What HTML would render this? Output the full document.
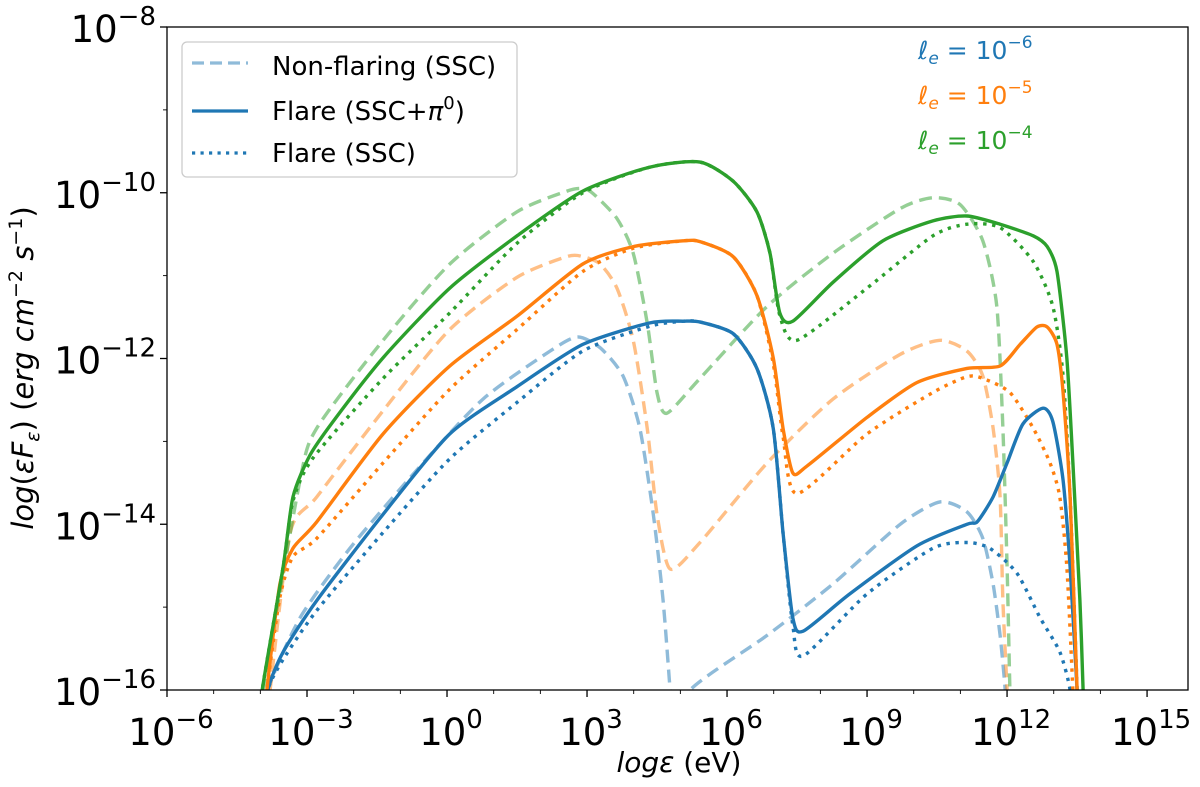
<!DOCTYPE html>
<html><head><meta charset="utf-8"><style>
body{margin:0;background:#fff;}
svg text{font-family:"DejaVu Sans","Liberation Sans",sans-serif;}
</style></head><body>
<svg id="chart" width="1200" height="782" viewBox="0 0 1200 782" xmlns="http://www.w3.org/2000/svg">
<defs><clipPath id="plotclip"><rect x="167" y="27" width="1021" height="663"/></clipPath></defs>
<rect x="0" y="0" width="1200" height="782" fill="#fff"/>
<g id="curves" clip-path="url(#plotclip)"></g>
<rect x="167" y="27" width="1021" height="663" fill="none" stroke="#000" stroke-width="1.3"/>
<g id="ticks"></g>
<text x="679" y="772" font-size="28" text-anchor="middle"><tspan font-style="italic">logε</tspan> (eV)</text>
<text transform="translate(33,368) rotate(-90)" font-size="29" text-anchor="middle"><tspan font-style="italic">log</tspan>(<tspan font-style="italic">εF</tspan><tspan font-style="italic" font-size="19" dy="6">ε</tspan><tspan dy="-6">) (</tspan><tspan font-style="italic">erg cm</tspan><tspan font-size="19" dy="-11">−2</tspan><tspan font-style="italic" dy="11"> s</tspan><tspan font-size="19" dy="-11">−1</tspan><tspan dy="11">)</tspan></text>
<g>
<rect x="182" y="42" width="335" height="135" rx="5" fill="#fff" stroke="#ccc" stroke-width="1.3"/>
<line x1="192" y1="63" x2="248" y2="63" stroke="#1f77b4" stroke-opacity="0.5" stroke-width="3.2" stroke-dasharray="12,6"/>
<text x="272" y="75" font-size="26">Non-flaring (SSC)</text>
<line x1="192" y1="111" x2="248" y2="111" stroke="#1f77b4" stroke-width="3.2"/>
<text x="272" y="120" font-size="26">Flare (SSC+<tspan font-style="italic">π</tspan><tspan font-size="18" dy="-11">0</tspan><tspan dy="11">)</tspan></text>
<line x1="192" y1="153" x2="248" y2="153" stroke="#1f77b4" stroke-width="3.2" stroke-dasharray="3.2,5.3"/>
<text x="272" y="162" font-size="26">Flare (SSC)</text>
</g>
<text x="918" y="59" font-size="25" fill="#1f77b4"><tspan font-style="italic">ℓ</tspan><tspan font-style="italic" font-size="17" dy="5">e</tspan><tspan dy="-5"> = 10</tspan><tspan font-size="17" dy="-11">−6</tspan></text>
<text x="918" y="104" font-size="25" fill="#ff7f0e"><tspan font-style="italic">ℓ</tspan><tspan font-style="italic" font-size="17" dy="5">e</tspan><tspan dy="-5"> = 10</tspan><tspan font-size="17" dy="-11">−5</tspan></text>
<text x="918" y="149" font-size="25" fill="#2ca02c"><tspan font-style="italic">ℓ</tspan><tspan font-style="italic" font-size="17" dy="5">e</tspan><tspan dy="-5"> = 10</tspan><tspan font-size="17" dy="-11">−4</tspan></text>
</svg>
<script>
const xTicks = [-6, -3, 0, 3, 6, 9, 12, 15];
const yTicks = [-8, -10, -12, -14, -16];
const xMinorTicks = [-5,-4,-2,-1,1,2,4,5,7,8,10,11,13,14];
const yMinorTicks = [-9,-11,-13,-15];

const greenSolidX = [-4.02,-3.96,-3.51,-3.30,-2.94,-2.44,-1.37,0.06,1.50,2.91,4.35,5.42,6.13,6.64,6.92,7.13,7.41,8.27,9.34,10.41,11.14,11.85,12.56,12.86,13.07,13.28,13.41,13.56,13.63,13.66];
const greenSolidY = [-16.5,-16.0,-14.51,-13.67,-13.17,-12.76,-11.99,-11.15,-10.52,-9.98,-9.69,-9.63,-9.86,-10.23,-10.73,-11.45,-11.55,-11.08,-10.58,-10.34,-10.28,-10.38,-10.52,-10.65,-10.95,-11.99,-13.26,-14.92,-16.0,-16.5];
const greenDotX = [-4.02,-3.96,-3.51,-3.30,-2.87,-1.37,0.06,1.50,2.91,4.35,5.42,6.13,6.64,6.92,7.13,7.50,9.00,10.41,11.14,11.85,12.56,12.98,13.20,13.35,13.50,13.53];
const greenDotY = [-16.5,-16.0,-14.51,-13.72,-13.20,-12.24,-11.45,-10.61,-10.0,-9.69,-9.63,-9.86,-10.23,-10.73,-11.48,-11.78,-11.15,-10.52,-10.38,-10.42,-10.83,-11.37,-12.21,-13.67,-16.0,-16.5];
const greenDashX = [-4.0,-3.94,-3.15,-2.79,-1.37,0.06,1.50,2.57,2.91,3.13,3.64,3.99,4.29,4.50,4.71,5.42,6.86,8.27,9.71,10.41,10.99,11.48,11.78,11.91,12.00,12.06,12.08];
const greenDashY = [-16.5,-16.0,-13.47,-12.84,-11.78,-10.86,-10.23,-9.98,-9.95,-10.01,-10.31,-10.73,-11.57,-12.41,-12.66,-12.24,-11.37,-10.73,-10.19,-10.06,-10.14,-10.58,-11.37,-12.84,-14.51,-16.0,-16.5];

const orangeSolidX = [-3.92,-3.86,-3.58,-3.30,-2.79,-1.37,0.06,1.50,2.91,3.99,5.06,5.42,6.13,6.64,6.99,7.20,7.41,7.71,9.00,10.07,11.14,11.85,12.28,12.64,12.86,13.07,13.20,13.35,13.50,13.53];
const orangeSolidY = [-16.5,-16.0,-14.72,-14.29,-13.97,-12.91,-12.09,-11.49,-10.86,-10.65,-10.58,-10.59,-10.77,-11.24,-11.99,-12.84,-13.38,-13.30,-12.71,-12.29,-12.12,-12.09,-11.83,-11.62,-11.62,-11.83,-12.41,-13.67,-16.0,-16.5];
const orangeDotX = [-3.92,-3.86,-3.58,-3.30,-2.79,-1.37,0.06,1.50,2.91,3.99,5.06,5.42,6.13,6.64,6.99,7.20,7.50,9.00,10.41,11.14,11.48,12.06,12.56,12.92,13.13,13.28,13.41,13.45];
const orangeDotY = [-16.5,-16.0,-14.88,-14.39,-14.17,-13.26,-12.37,-11.65,-10.95,-10.67,-10.58,-10.59,-10.77,-11.24,-12.06,-12.94,-13.63,-12.91,-12.41,-12.22,-12.24,-12.41,-12.84,-13.26,-13.67,-14.51,-16.0,-16.5];
const orangeDashX = [-3.85,-3.79,-3.36,-2.79,-1.37,0.06,1.50,2.57,2.91,3.28,3.64,3.99,4.29,4.50,4.78,5.42,6.86,8.27,9.71,10.56,11.14,11.48,11.70,11.85,11.91,12.00,12.03];
const orangeDashY = [-16.5,-16.0,-14.10,-13.67,-12.63,-11.65,-11.02,-10.77,-10.77,-10.86,-11.15,-11.78,-12.84,-13.88,-14.54,-14.22,-13.26,-12.49,-11.95,-11.78,-11.91,-12.21,-12.84,-13.67,-14.92,-16.0,-16.5];

const blueSolidX = [-3.9,-3.84,-3.51,-2.79,-1.37,0.06,1.50,2.91,4.35,5.06,5.42,6.13,6.64,6.99,7.20,7.41,7.63,8.63,10.07,11.14,11.36,11.70,12.00,12.34,12.77,12.98,13.20,13.35,13.50,13.53];
const blueSolidY = [-16.5,-16.0,-15.54,-14.92,-13.88,-12.91,-12.34,-11.83,-11.57,-11.55,-11.56,-11.70,-12.12,-12.84,-14.10,-15.13,-15.29,-14.84,-14.26,-14.0,-13.97,-13.67,-13.26,-12.79,-12.60,-12.76,-13.47,-14.51,-16.0,-16.5];
const blueDotX = [-3.9,-3.84,-3.51,-2.79,-1.37,0.06,1.50,2.91,4.35,5.06,5.42,6.13,6.64,6.99,7.20,7.41,7.63,9.00,10.41,11.14,11.63,12.21,12.71,13.13,13.35,13.40];
const blueDotY = [-16.5,-16.0,-15.63,-15.04,-14.10,-13.21,-12.53,-11.91,-11.61,-11.55,-11.56,-11.70,-12.12,-12.84,-14.10,-15.22,-15.59,-14.84,-14.29,-14.22,-14.29,-14.59,-15.13,-15.54,-16.0,-16.5];
const blueDashX = [-3.9,-3.84,-3.15,-2.08,-0.64,0.77,2.21,2.79,3.28,3.77,4.13,4.42,4.63,4.78,4.85,5.05,5.21,6.86,8.27,9.71,10.56,11.14,11.48,11.70,11.85,11.96,11.99];
const blueDashY = [-16.5,-16.0,-15.13,-14.29,-13.34,-12.49,-11.91,-11.74,-11.87,-12.21,-12.84,-13.88,-14.92,-16.0,-16.5,-16.5,-16.0,-15.34,-14.72,-14.0,-13.73,-13.85,-14.17,-14.72,-15.34,-16.0,-16.5];

const X0 = 167, PX_PER_DEC = 46.67, Y0 = 27, PY_PER_DEC = 82.875;
function xScale(v){ return X0 + (v + 6) * PX_PER_DEC; }
function yScale(v){ return Y0 + (-8 - v) * PY_PER_DEC; }
const NS = "http://www.w3.org/2000/svg";
const curves = document.getElementById('curves');
const ticks = document.getElementById('ticks');

function smoothPath(pts){
  let d = 'M' + pts[0][0].toFixed(1) + ',' + pts[0][1].toFixed(1);
  const t = 0.12;
  for (let i = 0; i < pts.length - 1; i++){
    const p0 = pts[Math.max(0, i-1)], p1 = pts[i], p2 = pts[i+1], p3 = pts[Math.min(pts.length-1, i+2)];
    const c1x = p1[0] + (p2[0]-p0[0])*t, c1y = p1[1] + (p2[1]-p0[1])*t;
    const c2x = p2[0] - (p3[0]-p1[0])*t, c2y = p2[1] - (p3[1]-p1[1])*t;
    d += 'C' + c1x.toFixed(1) + ',' + c1y.toFixed(1) + ' ' + c2x.toFixed(1) + ',' + c2y.toFixed(1) + ' ' + p2[0].toFixed(1) + ',' + p2[1].toFixed(1);
  }
  return d;
}
function drawSeries(xs, ys, color, style, name){
  const pts = xs.map((x, i) => [xScale(x), yScale(ys[i])]);
  const p = document.createElementNS(NS, 'path');
  p.setAttribute('d', smoothPath(pts));
  p.setAttribute('fill', 'none');
  p.setAttribute('stroke', color);
  p.setAttribute('stroke-width', '3.4');
  p.setAttribute('stroke-linejoin', 'round');
  if (style === 'dash') { p.setAttribute('stroke-dasharray', '13,7'); p.setAttribute('stroke-opacity', '0.5'); }
  if (style === 'dot') { p.setAttribute('stroke-dasharray', '3.4,5.6'); }
  
  
  curves.appendChild(p);
}
drawSeries(blueDashX, blueDashY, '#1f77b4', 'dash', 'nonflaring-le-1e-6');
drawSeries(orangeDashX, orangeDashY, '#ff7f0e', 'dash', 'nonflaring-le-1e-5');
drawSeries(greenDashX, greenDashY, '#2ca02c', 'dash', 'nonflaring-le-1e-4');
drawSeries(blueDotX, blueDotY, '#1f77b4', 'dot', 'flare-ssc-le-1e-6');
drawSeries(orangeDotX, orangeDotY, '#ff7f0e', 'dot', 'flare-ssc-le-1e-5');
drawSeries(greenDotX, greenDotY, '#2ca02c', 'dot', 'flare-ssc-le-1e-4');
drawSeries(blueSolidX, blueSolidY, '#1f77b4', 'solid', 'flare-total-le-1e-6');
drawSeries(orangeSolidX, orangeSolidY, '#ff7f0e', 'solid', 'flare-total-le-1e-5');
drawSeries(greenSolidX, greenSolidY, '#2ca02c', 'solid', 'flare-total-le-1e-4');

function tickLine(x1,y1,x2,y2,w){
  const l = document.createElementNS(NS,'line');
  l.setAttribute('x1',x1); l.setAttribute('y1',y1); l.setAttribute('x2',x2); l.setAttribute('y2',y2);
  l.setAttribute('stroke','#000'); l.setAttribute('stroke-width',w);
  
  
  ticks.appendChild(l);
}
function powLabel(x, y, exp, anchor, name){
  const t = document.createElementNS(NS,'text');
  t.setAttribute('x', x); t.setAttribute('y', y);
  t.setAttribute('font-size','37'); t.setAttribute('text-anchor', anchor);
  t.innerHTML = '10<tspan font-size="26" dy="-17">' + (exp < 0 ? '−' + (-exp) : exp) + '</tspan>';
  
  
  ticks.appendChild(t);
}
xTicks.forEach(v => { const x = xScale(v); tickLine(x,690,x,697,1.3); powLabel(x+4, 745, v, 'middle', 'x-tick-label'); });
xMinorTicks.forEach(v => { const x = xScale(v); tickLine(x,690,x,694,0.9); });
yTicks.forEach(v => { const y = yScale(v); tickLine(160,y,167,y,1.3); powLabel(156, y+15, v, 'end', 'y-tick-label'); });
yMinorTicks.forEach(v => { const y = yScale(v); tickLine(163,y,167,y,0.9); });
</script>
</body></html>
